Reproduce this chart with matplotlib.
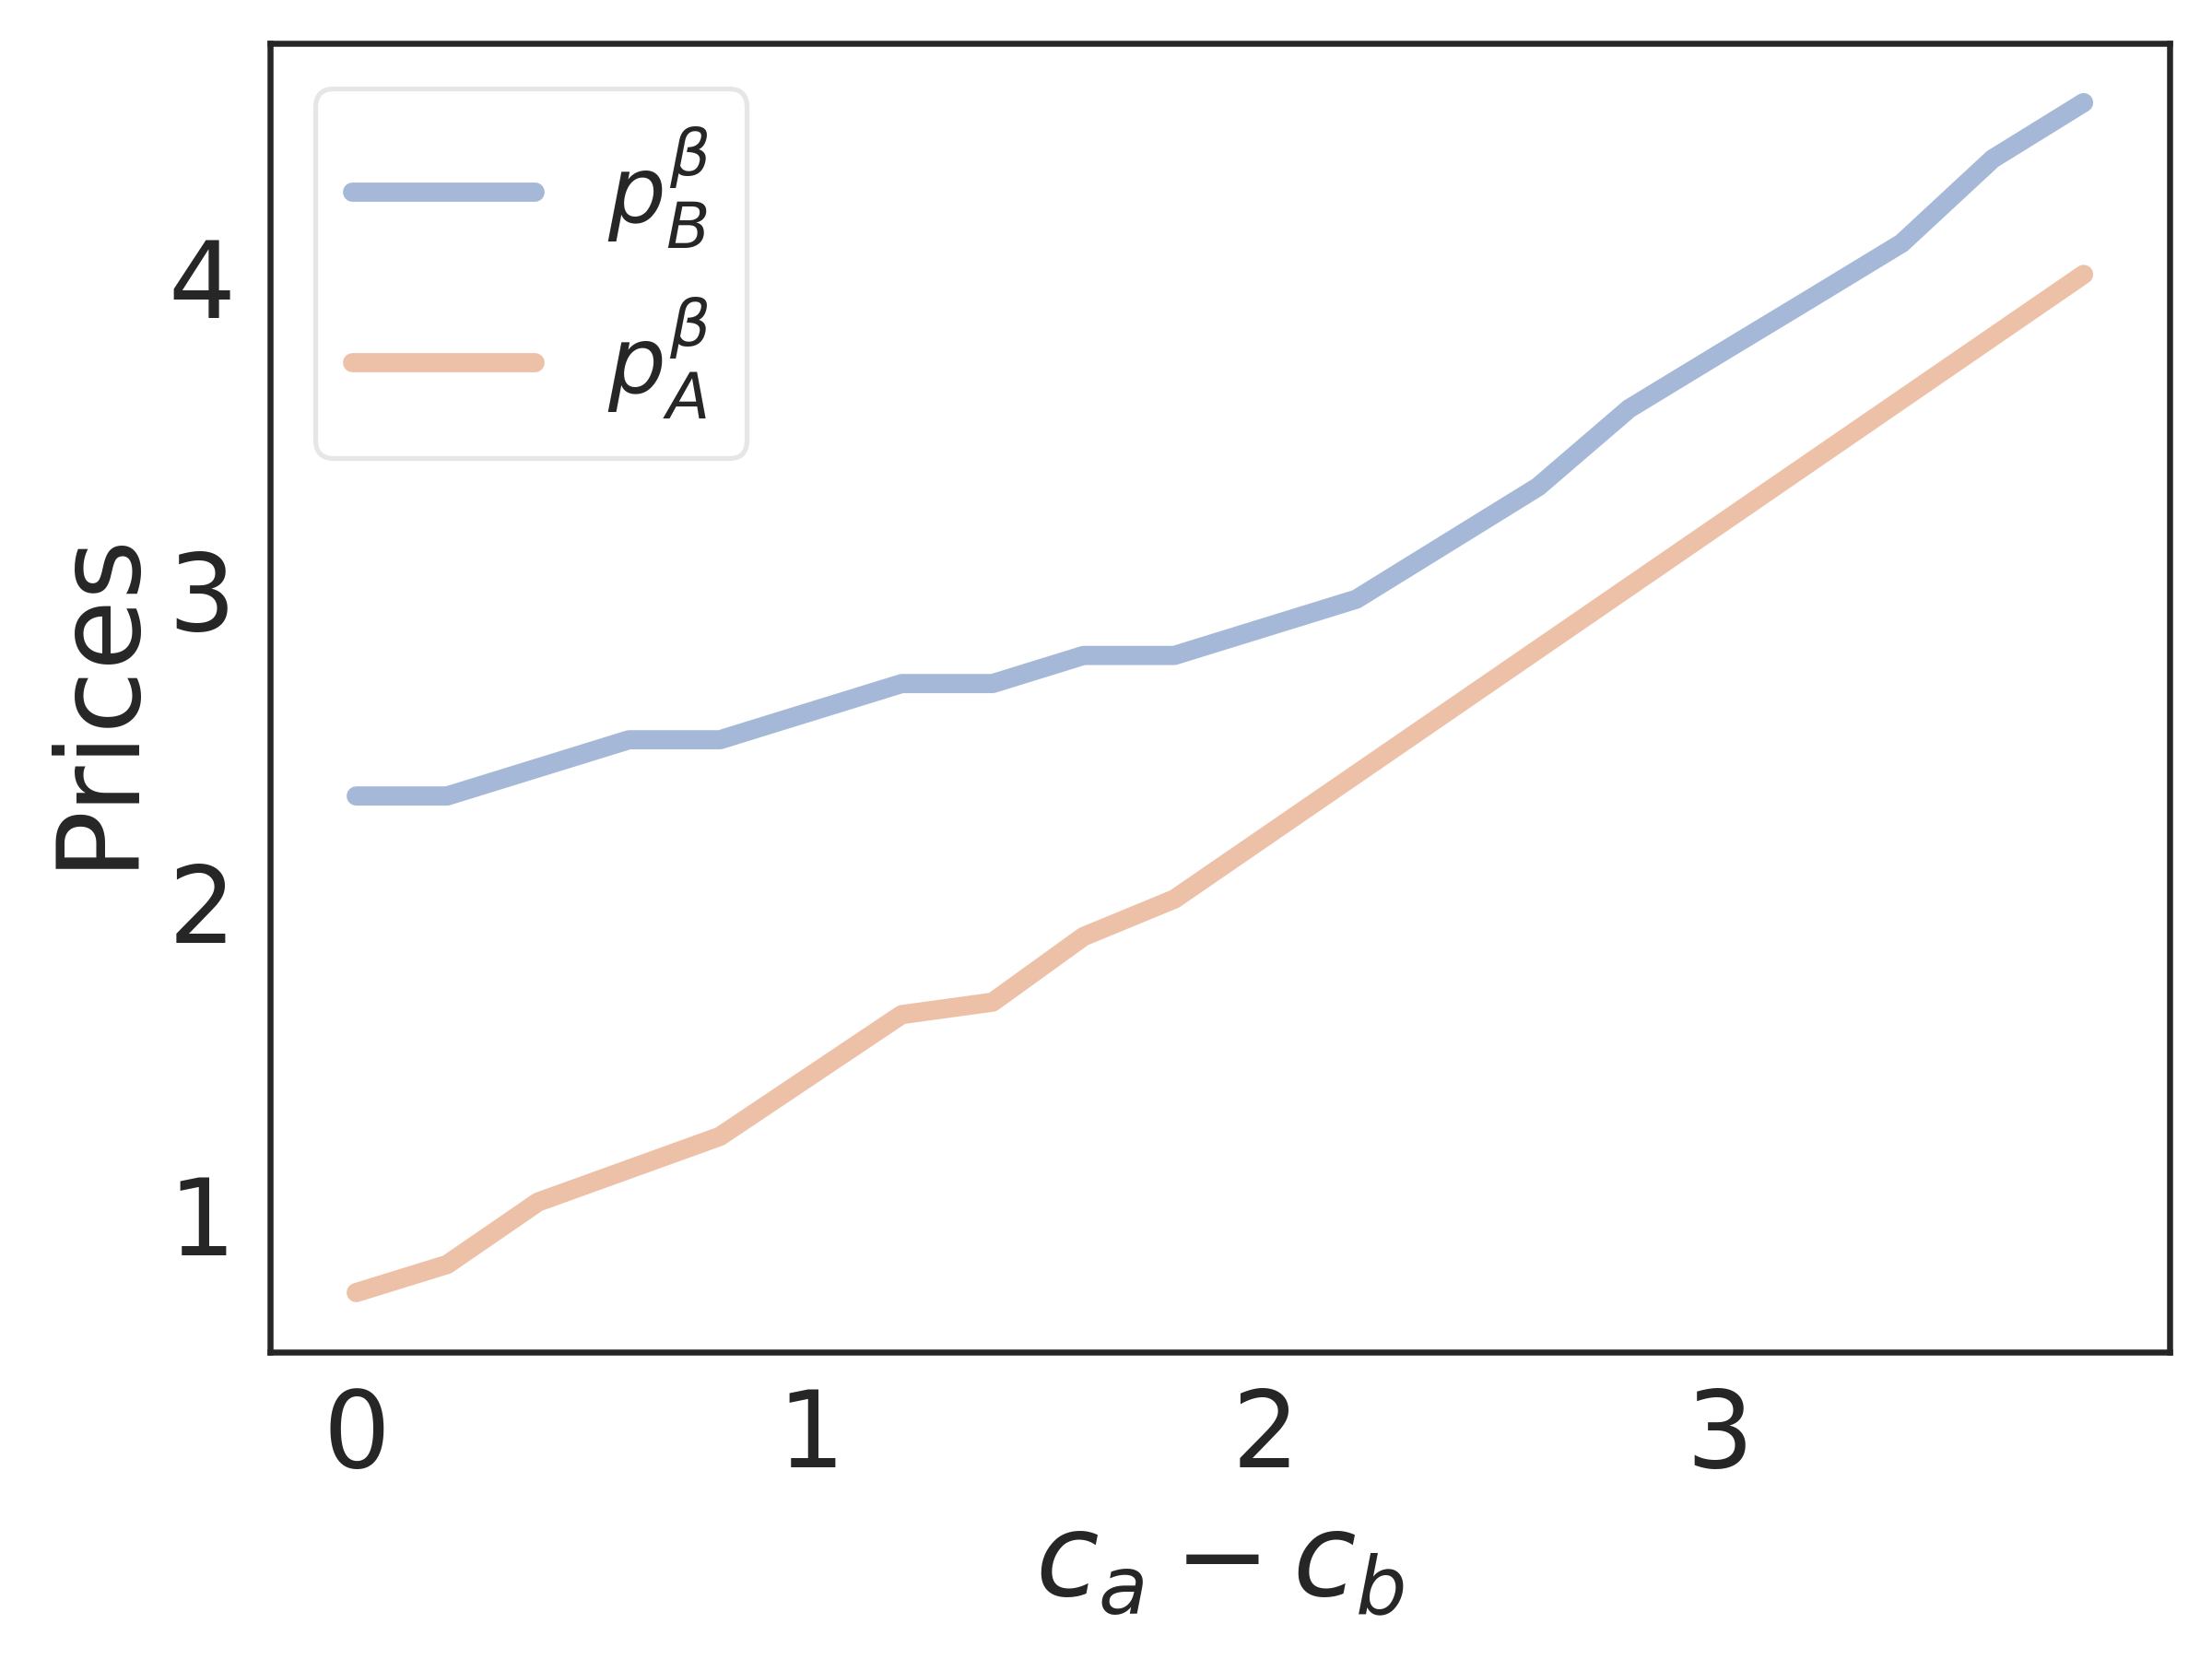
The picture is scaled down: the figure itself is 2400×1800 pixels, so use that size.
import matplotlib
matplotlib.use("Agg")
import matplotlib.pyplot as plt
import seaborn as sns

sns.set_theme(style="white")
plt.rcParams['font.family'] = ['DejaVu Sans']

cost_diff = [0.0, 0.2, 0.4, 0.6, 0.8, 1.0, 1.2, 1.4, 1.6, 1.8,
             2.0, 2.2, 2.4, 2.6, 2.8, 3.0, 3.2, 3.4, 3.6, 3.8]
price_B = [2.34, 2.34, 2.43, 2.52, 2.52, 2.61, 2.70, 2.70, 2.79, 2.79,
           2.88, 2.97, 3.15, 3.33, 3.58, 3.757, 3.933, 4.11, 4.38, 4.56]
price_A = [0.75, 0.84, 1.04, 1.145, 1.25, 1.445, 1.64, 1.68, 1.89, 2.01,
           2.21, 2.41, 2.61, 2.81, 3.01, 3.21, 3.41, 3.61, 3.81, 4.01]
labels = [r'$p_B^\beta$', r'$p_A^\beta$']

pal = sns.color_palette("deep")

fig = plt.figure(figsize=(6.4, 4.8), dpi=375)
ax = fig.add_axes([0.122, 0.185, 0.859, 0.789])
ax.plot(cost_diff, price_B, color=pal[0], alpha=0.5, lw=4, label=labels[0],
        solid_capstyle='round')
ax.plot(cost_diff, price_A, color=pal[1], alpha=0.5, lw=4, label=labels[1],
        solid_capstyle='round')

ax.set_xticks([0, 1, 2, 3])
ax.set_yticks([1, 2, 3, 4])
ax.tick_params(labelsize=22, pad=1.2)
ax.set_xlabel(r'$c_a - c_b$', fontsize=24)
ax.set_ylabel('Prices', fontsize=24, labelpad=3.2)
for s in ax.spines.values():
    s.set_color('.15')
leg = ax.legend(loc='upper left', fontsize=19)
leg.get_frame().set_edgecolor('0.88')

fig.savefig("out.png", dpi=375)
